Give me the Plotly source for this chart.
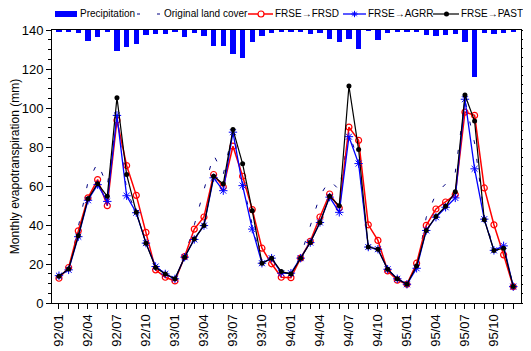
import plotly.graph_objects as go

months = ["92/01", "92/02", "92/03", "92/04", "92/05", "92/06", "92/07", "92/08", "92/09", "92/10", "92/11", "92/12",
          "93/01", "93/02", "93/03", "93/04", "93/05", "93/06", "93/07", "93/08", "93/09", "93/10", "93/11", "93/12",
          "94/01", "94/02", "94/03", "94/04", "94/05", "94/06", "94/07", "94/08", "94/09", "94/10", "94/11", "94/12",
          "95/01", "95/02", "95/03", "95/04", "95/05", "95/06", "95/07", "95/08", "95/09", "95/10", "95/11", "95/12"]

precipitation = [2, 2, 3.5, 11.7, 8, 2, 23.5, 19, 15.3, 5.8, 4.2, 4.7,
                 1.7, 8, 3.5, 6.9, 18, 18, 26.4, 31, 13.1, 6.9, 3.1, 2.4,
                 2.4, 2.4, 4.2, 3.5, 9.8, 13.5, 9.8, 21, 0.9, 11.3, 2.8, 2.4,
                 2.4, 2.4, 5.3, 6.9, 5.3, 4.7, 13.1, 52, 3.1, 3.9, 3.1, 1.3]

original = [14, 17, 39, 62, 72, 60, 96, 58, 46, 31, 19, 15,
            12.4, 24, 40, 58, 76, 66, 88, 62, 40, 21, 23, 15.5,
            15, 24, 39, 55, 63, 58, 87, 73, 29, 28, 18, 12.5,
            10, 18, 44, 56, 61, 67, 104, 82, 45, 27, 29, 8.5]

frse_frsd = [12.7, 18.2, 37, 53.9, 63.3, 49.9, 93.7, 70.5, 55.2, 36.2, 17, 13.2,
             11.3, 23.8, 37.9, 44.1, 65.9, 59.5, 80.4, 65, 47.9, 28.1, 20.1, 13.2,
             13, 23, 31.6, 44.1, 55.9, 48.7, 90.2, 83.4, 40.1, 32.1, 16.5, 11.7,
             9.6, 20.4, 39.8, 48.2, 51.8, 55.6, 97.9, 96.2, 59, 40.1, 24.7, 8.4]

frse_agrr = [14, 17, 34, 52.7, 60.7, 52.1, 96.2, 55, 46.3, 30.7, 18.7, 14.9,
             12.4, 23.5, 32.6, 39.7, 64.2, 57.6, 87.6, 60.2, 37.9, 20.4, 23, 15.3,
             15.3, 23, 31, 41.3, 54.3, 46.5, 85.3, 71.5, 28.7, 27.6, 17.3, 12.4,
             9.6, 17.8, 37.2, 44, 49.1, 53.9, 104.5, 68.8, 43, 27, 29.3, 8.4]

frse_past = [13.7, 17.5, 34.5, 53.4, 61.2, 54.7, 105.3, 65.9, 46.5, 30.7, 18.2, 14.9,
             12.4, 23.5, 32.8, 39.8, 65, 61.1, 89, 71.4, 47.3, 20.4, 23, 16.1,
             14.9, 23, 31, 41.3, 54.7, 49.9, 111.3, 78.7, 28.7, 27.6, 17.3, 12.4,
             9.6, 19, 37.2, 44.4, 49.6, 57, 106.7, 93.3, 42.7, 26.9, 28.1, 8.4]

tick_labels = [m if i % 3 == 0 else "" for i, m in enumerate(months)]

FONT = "Liberation Sans, Arial, sans-serif"
# the page body has an 8px default margin, so the figure is 8px smaller than the window
W, H = 523, 343
ML, MR, MT, MB = 44, 10, 22, 48
PW, PH = W - ML - MR, H - MT - MB
OFF = 8


def px(x):
    return (x - OFF - ML) / PW


def py(y):
    return (H - MB - (y - OFF)) / PH


fig = go.Figure()

fig.add_trace(go.Bar(x=months, y=precipitation, yaxis="y2", marker=dict(color="#0000FF", line=dict(width=0)),
                     width=0.55, name="Precipitation", showlegend=False))

fig.add_trace(go.Scatter(x=months, y=original, mode="lines", name="Original land cover",
                         line=dict(color="#000080", width=1, dash="4px,15px"), showlegend=False))
fig.add_trace(go.Scatter(x=months, y=frse_frsd, mode="lines+markers", name="FRSE→FRSD",
                         line=dict(color="#FF0000", width=1.5),
                         marker=dict(symbol="circle-open", size=6, color="#FF0000", line=dict(width=1.2)),
                         showlegend=False))
fig.add_trace(go.Scatter(x=months, y=frse_agrr, mode="lines+markers", name="FRSE→AGRR",
                         line=dict(color="#0000FF", width=1.3),
                         marker=dict(symbol="asterisk-open", size=7, color="#0000FF", line=dict(width=1, color="#0000FF")),
                         showlegend=False))
fig.add_trace(go.Scatter(x=months, y=frse_past, mode="lines+markers", name="FRSE→PAST",
                         line=dict(color="#000000", width=1.2),
                         marker=dict(symbol="circle", size=5, color="#000000"),
                         showlegend=False))

# manual legend (positions in window pixels)
shapes = []
annotations = []
ly = 14
shapes.append(dict(type="rect", xref="paper", yref="paper", x0=px(55), x1=px(77), y0=py(17), y1=py(11),
                   fillcolor="#0000FF", line=dict(width=0)))
for a, b in [(137, 140), (157, 160)]:
    shapes.append(dict(type="line", xref="paper", yref="paper", x0=px(a), x1=px(b), y0=py(ly), y1=py(ly),
                       line=dict(color="#000080", width=1)))
shapes.append(dict(type="line", xref="paper", yref="paper", x0=px(248), x1=px(273), y0=py(ly), y1=py(ly),
                   line=dict(color="#FF0000", width=1.5)))
shapes.append(dict(type="circle", xref="paper", yref="paper", x0=px(258), x1=px(264), y0=py(17), y1=py(11),
                   fillcolor="white", line=dict(color="#FF0000", width=1.2)))
shapes.append(dict(type="line", xref="paper", yref="paper", x0=px(343), x1=px(366), y0=py(ly), y1=py(ly),
                   line=dict(color="#0000FF", width=1.3)))
cx, cy, r = 354.5, ly, 3.2
d = r * 0.7071
path = (f"M{px(cx - r)},{py(cy)} L{px(cx + r)},{py(cy)} "
        f"M{px(cx)},{py(cy - r)} L{px(cx)},{py(cy + r)} "
        f"M{px(cx - d)},{py(cy - d)} L{px(cx + d)},{py(cy + d)} "
        f"M{px(cx - d)},{py(cy + d)} L{px(cx + d)},{py(cy - d)}")
shapes.append(dict(type="path", xref="paper", yref="paper", path=path, line=dict(color="#0000FF", width=1)))
shapes.append(dict(type="line", xref="paper", yref="paper", x0=px(433), x1=px(459), y0=py(ly), y1=py(ly),
                   line=dict(color="#000000", width=1.2)))
shapes.append(dict(type="circle", xref="paper", yref="paper", x0=px(444), x1=px(449), y0=py(16.5), y1=py(11.5),
                   fillcolor="#000000", line=dict(color="#000000", width=0)))

for text, x0 in [("Precipitation", 78), ("Original land cover", 162), ("FRSE→FRSD", 273),
                 ("FRSE→AGRR", 366), ("FRSE→PAST", 459)]:
    annotations.append(dict(text=text, x=px(x0), y=py(ly), xref="paper", yref="paper", xanchor="left",
                            yanchor="middle", showarrow=False, font=dict(family=FONT, size=10, color="black")))

fig.update_layout(
    width=W, height=H,
    margin=dict(l=ML, r=MR, t=MT, b=MB, pad=0, autoexpand=False),
    paper_bgcolor="white", plot_bgcolor="white",
    font=dict(family=FONT, color="black"),
    showlegend=False,
    bargap=0,
    shapes=shapes,
    annotations=annotations,
    xaxis=dict(type="category", range=[-0.72, 47.8], tickmode="array", tickvals=months, ticktext=tick_labels,
               tickangle=-90, ticks="outside", ticklen=5, tickwidth=1, tickcolor="black", automargin=False,
               showline=True, linecolor="black", linewidth=1, mirror=True, showgrid=False, zeroline=False,
               tickfont=dict(size=13, family=FONT)),
    yaxis=dict(range=[0, 140], tickmode="linear", tick0=0, dtick=20, ticks="outside", ticklen=5, tickwidth=1,
               tickcolor="black", showline=True, linecolor="black", linewidth=1, showgrid=False, zeroline=False,
               tickfont=dict(size=13, family=FONT), automargin=False,
               minor=dict(tickmode="linear", tick0=0, dtick=5, ticks="outside", ticklen=3, tickcolor="black", showgrid=False),
               title=dict(text="Monthly evapotranspiration (mm)", font=dict(size=12, family=FONT), standoff=8)),
    yaxis2=dict(overlaying="y", side="right", range=[300, 0], tickmode="array", tickvals=[0, 30, 60],
                ticktext=["0", "30", "60"], ticks="outside", ticklen=5, tickwidth=1, tickcolor="black",
                showline=True, linecolor="black", linewidth=1, showgrid=False, zeroline=False, automargin=False,
                tickfont=dict(size=13, family=FONT),
                minor=dict(tickmode="linear", tick0=0, dtick=10, ticks="outside", ticklen=3, tickcolor="black", showgrid=False)),
)

fig.write_html("out.html")
